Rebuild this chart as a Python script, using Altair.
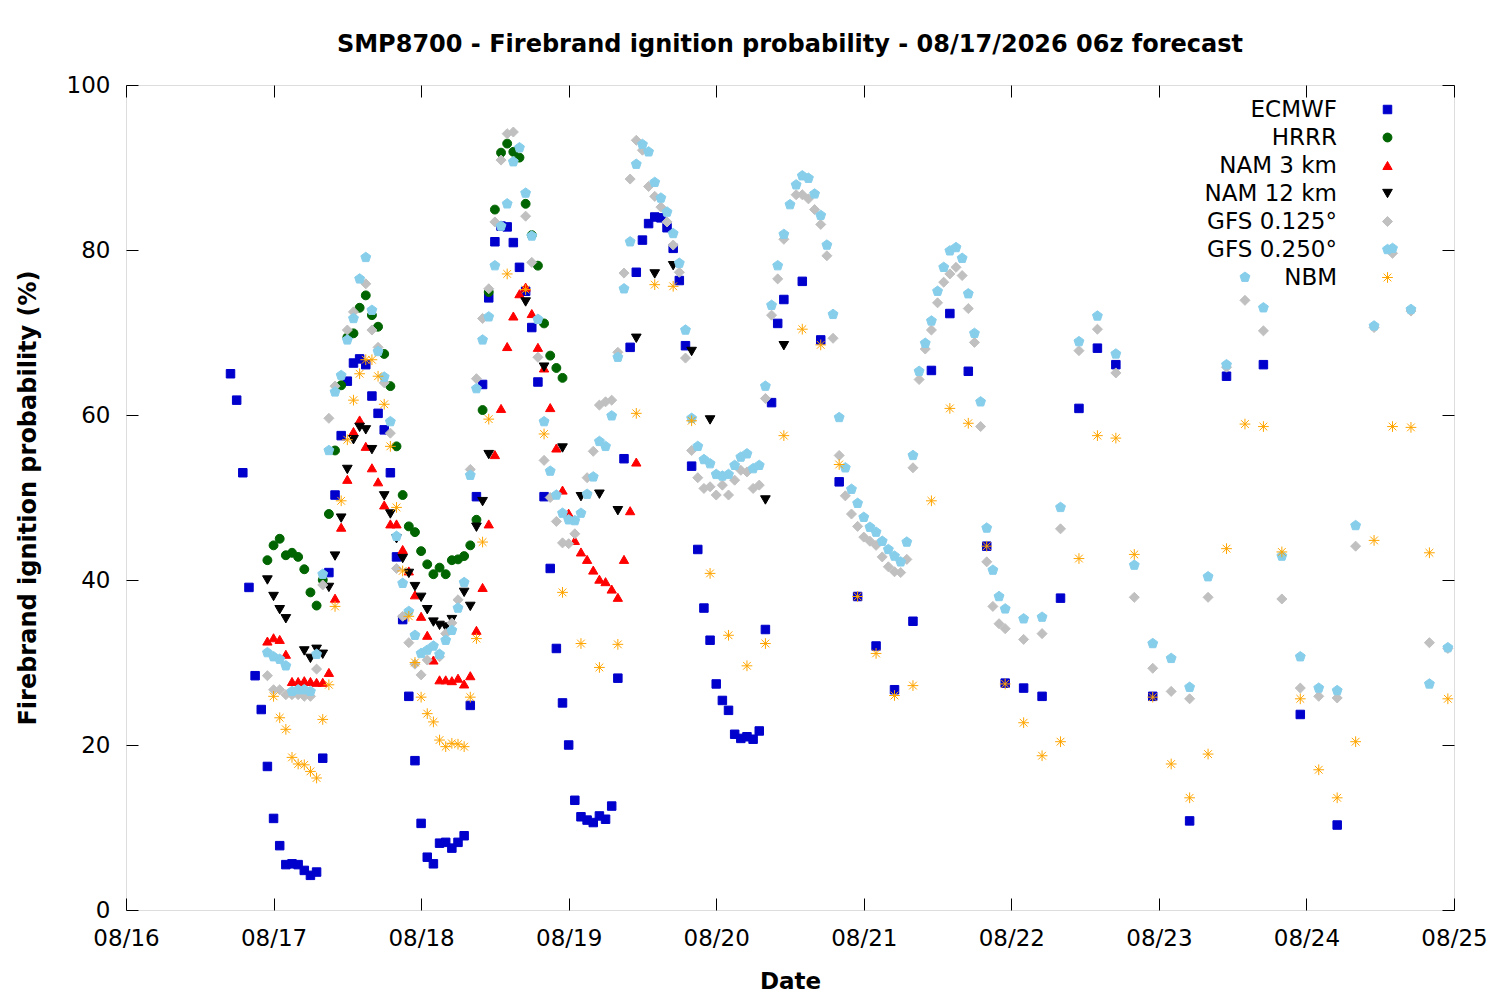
import altair as alt
import pandas as pd

# ---------------- data (hours since 08/16 00:00 local) ----------------
MODELS = ["ECMWF", "HRRR", "NAM 3 km", "NAM 12 km", "GFS 0.125°", "GFS 0.250°", "NBM"]

ecmwf_hours = list(range(17, 108)) + list(range(110, 162, 3)) + list(range(167, 198, 6))
ecmwf_vals = [
    65.0, 61.8, 53.0, 39.1, 28.4, 24.3, 17.4, 11.1, 7.8, 5.5,
    5.6, 5.5, 4.8, 4.2, 4.6, 18.4, 40.9, 50.3, 57.5, 64.1,
    66.3, 66.8, 66.1, 62.3, 60.2, 58.2, 53.0, 42.8, 35.2, 25.9,
    18.1, 10.5, 6.4, 5.6, 8.1, 8.2, 7.5, 8.2, 9.0, 24.8,
    50.1, 63.7, 74.2, 81.0, 82.9, 82.8, 80.9, 77.9, 75.0, 70.6,
    64.0, 50.1, 41.4, 31.7, 25.1, 20.0, 13.3, 11.3, 10.9, 10.6,
    11.4, 11.0, 12.6, 28.1, 54.7, 68.2, 77.3, 81.2, 83.2, 84.0,
    83.9, 82.7, 80.2, 76.3, 68.4, 53.8, 43.7, 36.6, 32.7, 27.4,
    25.4, 24.2, 21.3, 20.8, 21.0, 20.7, 21.7, 34.0, 61.5, 71.1,
    74.0,
    76.2, 69.1, 51.9, 38.0, 32.0, 26.7, 35.0, 65.4, 72.3, 65.3,
    44.1, 27.5, 26.9, 25.9, 37.8, 60.8, 68.1, 66.1,
    25.9, 10.8, 64.7, 66.1, 23.7, 10.3,
]

hrrr_hours = list(range(23, 72))
hrrr_vals = [
    42.4, 44.2, 45.0, 43.0, 43.3, 42.8, 41.3, 38.5, 36.9, 40.0,
    48.0, 55.7, 63.6, 69.4, 69.9, 73.0, 74.5, 72.1, 70.7, 67.4,
    63.5, 56.2, 50.3, 46.5, 45.8, 43.5, 41.9, 40.7, 41.5, 40.7,
    42.4, 42.5, 42.9, 44.2, 47.3, 60.6, 74.9, 84.9, 91.8, 92.9,
    91.9, 91.2, 85.6, 81.8, 78.1, 71.1, 67.2, 65.7, 64.5,
]

nam3_hours = list(range(23, 84))
nam3_vals = [
    32.6, 33.0, 32.8, 31.0, 27.7, 27.7, 27.8, 27.7, 27.6, 27.6,
    28.8, 37.8, 46.4, 52.2, 58.0, 59.4, 56.2, 53.6, 51.9, 49.1,
    46.8, 46.8, 43.7, 41.1, 38.2, 35.6, 33.3, 30.3, 27.9, 27.9,
    27.8, 28.1, 27.4, 28.4, 33.9, 39.1, 46.8, 55.2, 60.8, 68.3,
    72.0, 74.7, 75.5, 72.3, 68.2, 65.7, 60.9, 56.0, 50.9, 48.1,
    44.8, 43.4, 42.5, 41.2, 40.1, 39.8, 38.9, 37.9, 42.5, 48.4,
    54.3,
]

nam12_hours = [23, 24, 25, 26, 29, 30, 31, 32, 33, 34, 35, 36, 37, 38, 39, 40,
               42, 43, 44, 45, 46, 47, 48, 49, 50, 51, 52, 53, 55, 56, 57, 58, 59,
               65, 68, 71, 74, 77, 80, 83, 86, 89, 92, 95, 104, 107]
nam12_vals = [40.0, 38.0, 36.4, 35.3, 31.4, 30.5, 31.6, 31.0, 39.1, 42.9, 47.5, 53.4, 57.0, 58.5, 58.2, 55.8,
              50.2, 48.0, 45.0, 42.6, 40.8, 39.2, 37.9, 36.4, 34.9, 34.5, 34.3, 35.2, 38.5, 36.8, 46.4, 49.5, 55.2,
              73.7, 65.8, 56.0, 50.1, 50.4, 48.4, 69.3, 77.1, 78.1, 67.7, 59.4, 49.7, 68.4]

gfs125_hours = [23, 24, 25, 26, 27, 28, 29, 30, 31, 32, 33, 34, 36, 37, 39, 40, 41, 42, 43,
                44, 45, 46, 47, 48, 49, 51, 52, 53, 54, 56, 57, 58, 59, 60, 61, 62, 63,
                65, 66, 67, 68, 69, 70, 71, 72, 73, 75, 76, 77, 78, 79, 80, 81, 82, 83,
                84, 85, 86, 87, 88, 89, 90, 91, 92, 93, 94, 95, 96, 97, 98, 99, 100,
                101, 102, 103, 104, 105, 106, 107, 109, 110, 111, 112, 113, 114, 115,
                116, 117, 118, 119, 120, 121, 122, 123, 124, 125, 126, 127, 128, 129,
                130, 131, 132, 133, 134, 135, 136, 137, 138, 139, 140, 141, 142, 143,
                146, 149, 152, 155, 158, 161, 164, 167, 170, 173, 176, 179, 182, 185,
                188, 191, 194, 197, 200, 203, 206, 209, 212, 215]
gfs125_vals = [28.4, 26.7, 26.7, 26.1, 26.1, 26.1, 25.9, 25.9, 29.2, 39.4, 59.6, 63.5, 70.3, 72.5, 75.9, 70.3, 68.2, 63.9, 57.8,
               41.4, 35.6, 32.4, 29.8, 28.5, 30.3, 30.7, 33.5, 34.8, 37.6, 53.4, 64.4, 71.7, 75.3, 83.4, 90.9, 94.1, 94.3,
               84.1, 78.5, 67.0, 54.5, 50.0, 47.1, 44.5, 44.4, 45.6, 52.4, 55.6, 61.2, 61.6, 61.8, 67.6, 77.2, 88.6, 93.3,
               92.1, 87.7, 86.5, 85.2, 83.4, 80.6, 77.3, 66.9, 55.7, 52.4, 51.1, 51.3, 50.3, 51.5, 50.3, 52.1, 53.3,
               53.1, 51.1, 51.5, 62.0, 72.1, 76.5, 81.3, 86.7, 86.7, 86.2, 84.9, 83.1, 79.3, 69.3,
               55.1, 50.2, 48.0, 46.5, 45.2, 44.7, 44.2, 42.8, 41.6, 41.0, 40.9, 42.5, 53.6, 64.3,
               68.0, 70.3, 73.6, 76.1, 77.1, 77.9, 76.9, 72.9, 68.8, 58.6, 42.2, 36.8, 34.7, 34.1,
               32.8, 33.5, 46.2, 67.8, 70.4, 65.1, 37.9, 29.3, 26.5, 25.6, 37.9, 65.8, 73.9, 70.2,
               37.7, 26.9, 25.9, 25.7, 44.1, 70.6, 79.6, 72.6, 32.4, 31.7]

gfs250_hours = list(range(23, 144)) + list(range(146, 216, 3))
gfs250_vals = [
    31.2, 30.7, 30.4, 29.6, 26.5, 26.7, 26.7, 26.5, 31.0, 40.7,
    55.7, 62.8, 64.8, 69.1, 71.7, 76.5, 79.1, 72.7, 67.7, 64.6,
    59.2, 45.3, 39.6, 36.2, 33.3, 31.1, 31.5, 32.0, 31.0, 32.7,
    33.9, 36.6, 39.7, 52.7, 63.2, 69.1, 71.9, 78.1, 82.9, 85.6,
    90.7, 92.4, 86.9, 81.7, 71.6, 59.2, 53.2, 50.3, 48.1, 47.3,
    47.2, 48.1, 50.4, 52.5, 56.8, 56.2, 59.9, 67.0, 75.3, 81.0,
    90.4, 92.8, 91.9, 88.2, 86.3, 84.6, 82.0, 78.4, 70.3, 59.6,
    56.2, 54.6, 54.1, 52.8, 52.6, 52.8, 53.9, 54.9, 55.3, 53.5,
    53.9, 63.5, 73.3, 78.1, 81.9, 85.5, 87.9, 89.0, 88.7, 86.8,
    84.2, 80.6, 72.2, 59.7, 53.6, 51.0, 49.3, 47.6, 46.4, 45.8,
    44.7, 43.7, 42.9, 42.2, 44.6, 55.1, 65.3, 68.7, 71.4, 75.0,
    77.9, 79.9, 80.3, 79.0, 74.7, 69.9, 61.6, 46.3, 41.2, 38.0,
    36.5,
    35.3, 35.5, 48.8, 68.9, 72.0, 67.4, 41.8, 32.3, 30.5, 27.0,
    40.4, 66.1, 76.7, 73.0, 42.9, 30.7, 26.9, 26.6, 46.6, 70.8,
    80.2, 72.8, 27.4, 31.8,
]

nbm_hours = list(range(24, 60)) + list(range(62, 216, 3))
nbm_vals = [
    25.9, 23.3, 21.9, 18.5, 17.7, 17.6, 16.8, 16.0, 23.1, 27.3,
    36.8, 49.6, 57.0, 61.8, 65.0, 66.7, 66.7, 64.7, 61.3, 56.2,
    48.8, 41.1, 35.6, 30.0, 25.8, 23.8, 22.8, 20.6, 19.8, 20.2,
    20.1, 19.8, 25.8, 32.9, 44.6, 59.5,
    77.1, 75.2, 57.7, 38.5, 32.3, 29.4, 32.2, 60.2, 75.8, 75.6,
    59.3, 40.8, 33.3, 29.6, 32.3, 57.5, 70.4, 68.5, 54.0, 38.0,
    31.1, 26.0, 27.2, 49.6, 60.8, 59.0, 44.1, 27.4, 22.7, 18.7,
    20.4, 42.6, 57.5, 57.2, 43.1, 25.8, 17.7, 13.6, 18.9, 43.8,
    58.9, 58.6, 43.4, 25.6, 17.0, 13.6, 20.4, 44.8, 58.6, 58.5,
    43.3, 25.6,
]

TICK_HOURS = list(range(0, 217, 24))
Y_TICKS = [0, 20, 40, 60, 80, 100]

# ---------------- styles ----------------
FILLS = ["#0000cc", "#006400", "#ff0000", "#000000", "#c0c0c0", "#87ceeb", "transparent"]
STROKES = ["#0000cc", "#006400", "#ff0000", "#000000", "#c0c0c0", "#87ceeb", "#ffa500"]
PENTAGON = "M0,-1L0.951,-0.309L0.588,0.809L-0.588,0.809L-0.951,-0.309Z"
ASTERISK = "M-1,0L1,0M0,-1L0,1M-0.72,-0.72L0.72,0.72M-0.72,0.72L0.72,-0.72"
SHAPES = ["square", "circle", "triangle-up", "triangle-down", "diamond", PENTAGON, ASTERISK]
SIZES = [72, 115, 125, 125, 121, 130, 165]

series = [
    (MODELS[0], ecmwf_hours, ecmwf_vals),
    (MODELS[1], hrrr_hours, hrrr_vals),
    (MODELS[2], nam3_hours, nam3_vals),
    (MODELS[3], nam12_hours, nam12_vals),
    (MODELS[4], gfs125_hours, gfs125_vals),
    (MODELS[5], gfs250_hours, gfs250_vals),
    (MODELS[6], nbm_hours, nbm_vals),
]
rows = []
for name, hrs, vals in series:
    for h, v in zip(hrs, vals):
        rows.append({"model": name, "hour": h, "prob": v})
df = pd.DataFrame(rows)

FONT = "DejaVu Sans"
xscale = alt.Scale(domain=[0, 216], nice=False, zero=False)
yscale = alt.Scale(domain=[0, 100], nice=False)

legend = alt.Legend(
    title=None, orient="none", legendX=1250, legendY=13,
    labelFont=FONT, labelFontSize=23, labelColor="black",
    labelAlign="right", labelOffset={"expr": "-62"}, labelLimit=400,
    rowPadding=4, padding=0, symbolStrokeWidth=1,
)

points = alt.Chart(df).mark_point(filled=False, opacity=1, strokeWidth=1).encode(
    x=alt.X("hour:Q", scale=xscale, axis=alt.Axis(
        orient="bottom", values=TICK_HOURS, labelExpr="'08/' + (16 + datum.value / 24)",
        title="Date", titleFont=FONT, titleFontSize=23, titleFontWeight="bold", titleColor="black",
        titlePadding=20, labelFont=FONT, labelFontSize=23, labelColor="black", labelPadding=17,
        tickSize=12, tickColor="black", offset=-12, domain=False, grid=False, labelFlush=False,
    )),
    y=alt.Y("prob:Q", scale=yscale, axis=alt.Axis(
        orient="left", values=Y_TICKS, title="Firebrand ignition probability (%)",
        titleFont=FONT, titleFontSize=24, titleFontWeight="bold", titleColor="black", titlePadding=26,
        labelFont=FONT, labelFontSize=23, labelColor="black", labelPadding=16,
        tickSize=12, tickColor="black", offset=-12, domain=False, grid=False, labelFlush=False,
    )),
    fill=alt.Fill("model:N", scale=alt.Scale(domain=MODELS, range=FILLS), legend=legend),
    stroke=alt.Stroke("model:N", scale=alt.Scale(domain=MODELS, range=STROKES), legend=legend),
    shape=alt.Shape("model:N", scale=alt.Scale(domain=MODELS, range=SHAPES), legend=legend),
    size=alt.Size("model:N", scale=alt.Scale(domain=MODELS, range=SIZES), legend=legend),
)

mirror_df = pd.DataFrame({"hour": [0], "prob": [0]})
mirror = alt.Chart(mirror_df).mark_point(opacity=0).encode(
    x=alt.X("hour:Q", scale=xscale, axis=alt.Axis(
        orient="top", values=TICK_HOURS, labels=False, title="", tickSize=12,
        tickColor="black", offset=-12, domain=False, grid=False,
    )),
    y=alt.Y("prob:Q", scale=yscale, axis=alt.Axis(
        orient="right", values=Y_TICKS, labels=False, title="", tickSize=12,
        tickColor="black", offset=-12, domain=False, grid=False,
    )),
)

chart = alt.layer(points, mirror).resolve_axis(x="independent", y="independent").properties(
    width=1328, height=825,
    title=alt.TitleParams(
        "SMP8700 - Firebrand ignition probability - 08/17/2026 06z forecast",
        font=FONT, fontSize=24, fontWeight="bold", color="black", anchor="middle", offset=17,
    ),
    autosize=alt.AutoSizeParams(type="none"),
    padding={"left": 118, "top": 77, "right": 38, "bottom": 82},
).configure_view(stroke="black", strokeWidth=1).configure(font=FONT, background="white")

chart.save("out.html", embed_options={"renderer": "svg", "actions": False})
